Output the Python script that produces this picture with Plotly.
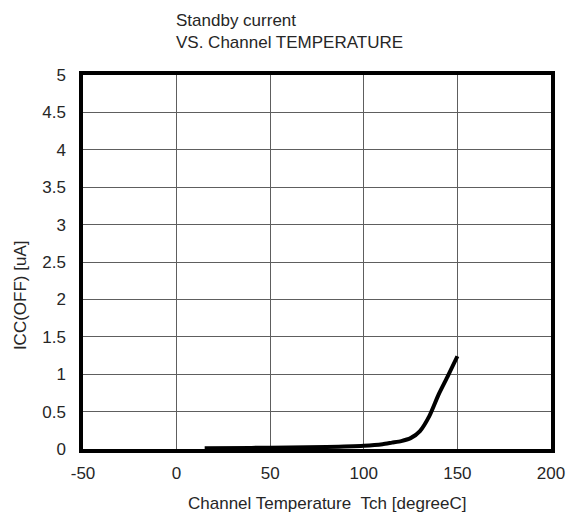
import plotly.graph_objects as go

temp = [15, 40, 60, 80, 100, 110, 115, 120, 125, 130, 135, 140, 145, 150]
icc_off = [0.01, 0.015, 0.02, 0.028, 0.045, 0.065, 0.085, 0.105, 0.145, 0.24, 0.44, 0.73, 0.98, 1.24]

x_ticks = [-50, 0, 50, 100, 150, 200]
y_ticks = [0, 0.5, 1, 1.5, 2, 2.5, 3, 3.5, 4, 4.5, 5]
y_tick_text = ["0", "0.5", "1", "1.5", "2", "2.5", "3", "3.5", "4", "4.5", "5"]

title_text = "Standby current<br>VS. Channel TEMPERATURE"
x_title = "Channel Temperature \u00a0Tch [degreeC]"
y_title = "ICC(OFF) [uA]"

font_family = "Liberation Sans, Arial, sans-serif"
txt_color = "#262626"
fs = 17

fig = go.Figure()
fig.add_trace(go.Scatter(
    x=temp, y=icc_off, mode="lines",
    line=dict(color="black", width=4, shape="spline", smoothing=0.6),
    showlegend=False, hoverinfo="skip",
))

fig.update_layout(
    width=569, height=514,
    margin=dict(l=75, r=18, t=67, b=73),
    paper_bgcolor="white", plot_bgcolor="white",
    font=dict(family=font_family, size=fs, color=txt_color),
    annotations=[
        dict(text=title_text, xref="paper", yref="paper", x=0.194, y=1.0, yshift=66,
             xanchor="left", yanchor="top", align="left", showarrow=False,
             font=dict(family=font_family, size=fs, color=txt_color)),
        dict(text=x_title, xref="paper", yref="paper", x=0.221, y=-0.145,
             xanchor="left", yanchor="middle", showarrow=False,
             font=dict(family=font_family, size=fs, color=txt_color)),
        dict(text=y_title, xref="paper", yref="paper", x=-0.135, y=0.411,
             xanchor="center", yanchor="middle", textangle=-90, showarrow=False,
             font=dict(family=font_family, size=fs, color=txt_color)),
    ],
)

fig.update_xaxes(
    range=[-50, 200], tickvals=x_ticks, ticktext=[str(v) for v in x_ticks],
    showgrid=True, gridcolor="#5e5e5e", gridwidth=1,
    showline=True, linecolor="black", linewidth=3.5, mirror=True,
    zeroline=False, ticks="outside", ticklen=6, tickcolor="rgba(0,0,0,0)",
    ticklabeloverflow="allow",
    tickfont=dict(family=font_family, size=fs, color=txt_color),
)
fig.update_yaxes(
    range=[0, 5], tickvals=y_ticks, ticktext=y_tick_text,
    showgrid=True, gridcolor="#5e5e5e", gridwidth=1,
    showline=True, linecolor="black", linewidth=3.5, mirror=True,
    zeroline=False, ticks="outside", ticklen=10, tickcolor="rgba(0,0,0,0)",
    tickfont=dict(family=font_family, size=fs, color=txt_color),
)

fig.write_html("out.html")
